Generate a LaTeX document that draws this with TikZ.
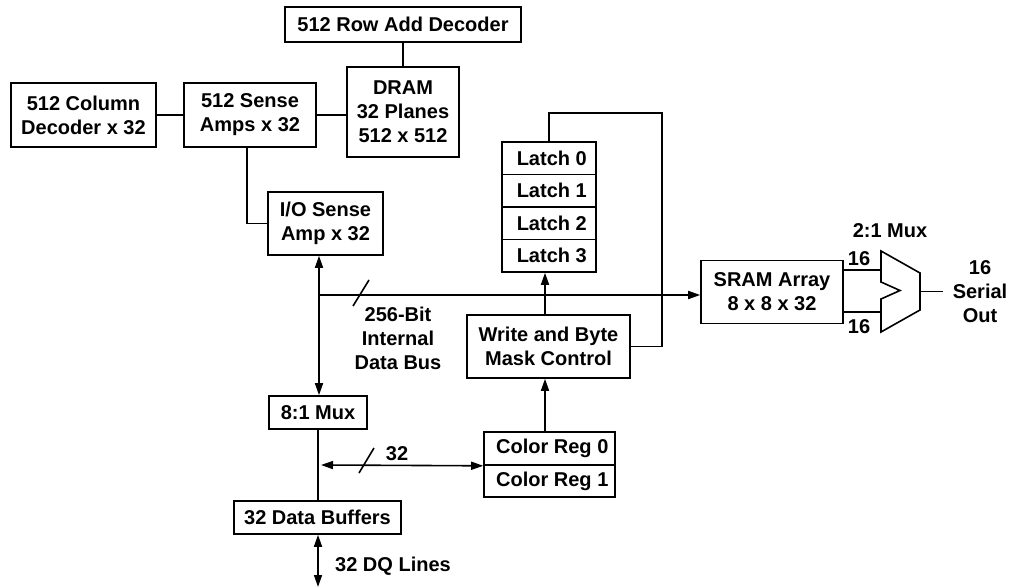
\documentclass[tikz,border=0pt]{standalone}
\usepackage{fontspec}
\setmainfont{Liberation Sans}
\usetikzlibrary{arrows.meta}
\begin{document}
\begin{tikzpicture}[x=1pt,y=-1pt,
  every node/.style={font=\fontsize{20}{24}\selectfont\bfseries, inner sep=0pt, align=center},
  blk/.style={draw, line width=1.6pt},
  conn/.style={line width=1.6pt},
  tip/.style={-{Triangle[length=12pt,width=8pt]}},
  tips/.style={{Triangle[length=12pt,width=8pt]}-{Triangle[length=12pt,width=8pt]}}]
\useasboundingbox (0,0) rectangle (1011,588);
% boxes
\node[blk, minimum width=236pt, minimum height=35pt] (rowdec) at (403,24.5) {512 Row Add Decoder};
\node[blk, minimum width=112pt, minimum height=90pt] (dram) at (403,112) {DRAM\\32 Planes\\512 x 512};
\node[blk, minimum width=145pt, minimum height=64pt] (coldec) at (83.5,115) {512 Column\\Decoder x 32};
\node[blk, minimum width=132pt, minimum height=64pt] (sense) at (250,115) {512 Sense\\Amps x 32};
\node[blk, minimum width=115pt, minimum height=63pt] (iosense) at (325.5,223.5) {I/O Sense\\Amp x 32};
\node[blk, minimum width=94pt, minimum height=32.5pt] (latch0) at (549,158.25) {\ Latch 0};
\node[blk, minimum width=94pt, minimum height=32.5pt] (latch1) at (549,190.75) {\ Latch 1};
\node[blk, minimum width=94pt, minimum height=32.5pt] (latch2) at (549,223.25) {\ Latch 2};
\node[blk, minimum width=94pt, minimum height=32.5pt] (latch3) at (549,255.75) {\ Latch 3};
\node[blk, minimum width=163pt, minimum height=63pt] (write) at (548.5,346.5) {Write and Byte\\Mask Control};
\node[blk, minimum width=142pt, minimum height=63pt] (sram) at (772,292) {SRAM Array\\8 x 8 x 32};
\node[blk, minimum width=98pt, minimum height=33pt] (mux8) at (318,412.5) {8:1 Mux};
\node[blk, minimum width=167pt, minimum height=33pt] (databuf) at (317.5,517.5) {32 Data Buffers};
\node[blk, minimum width=131pt, minimum height=33pt] (creg0) at (549.5,448.5) {\ Color Reg 0};
\node[blk, minimum width=131pt, minimum height=32pt] (creg1) at (549.5,481) {\ Color Reg 1};
% 2:1 mux shape
\coordinate (m1) at (881,251);
\coordinate (m2) at (920,273);
\coordinate (m3) at (920,310);
\coordinate (m4) at (881,332);
\coordinate (m5) at (881,299);
\coordinate (m6) at (900,290.5);
\coordinate (m7) at (881,282);
\draw[conn, line join=miter] (m1) -- (m2) -- (m3) -- (m4) -- (m5) -- (m6) -- (m7) -- cycle;
\coordinate (mout) at (920,291.5);
\coordinate (serial) at (943,291.5);
% coordinates
\coordinate (busL) at (319,295);
\coordinate (loop) at (662,113);
\coordinate (ax) at (545,0);
\coordinate (cL) at (321,465);
\coordinate (dqend) at (318,587);
% labels
\node (mux2lbl) at (890,231) {2:1 Mux};
\node (n16a) at (859,259) {16};
\node (n16b) at (859,327) {16};
\node (serlbl) at (980,292) {16\\Serial\\Out};
\node (buslbl) at (398,338) {256-Bit\\Internal\\Data Bus};
\node (n32) at (397,454) {32};
\node[anchor=west] (dqlbl) at (335,566) {32 DQ Lines};
% connectors
\draw[conn] (rowdec) -- (dram);
\draw[conn] (coldec) -- (sense);
\draw[conn] (sense) -- (sense -| dram.west);
\draw[conn] (sense.south -| 247,0) |- (iosense.west);
\draw[conn, tips] (iosense.south -| busL) -- (mux8.north -| busL);
\draw[conn, tip] (busL) -- (sram.west |- busL);
\draw[conn] (353,306) -- (369,280);
\draw[conn, tip] (ax |- write.north) -- (ax |- latch3.south);
\draw[conn, tip] (ax |- creg0.north) -- (ax |- write.south);
\draw[conn] (latch0.north) |- (loop) |- (write.east);
\draw[conn] (sram.east |- 0,270) -- (m1 |- 0,270);
\draw[conn] (sram.east |- 0,312) -- (m1 |- 0,312);
\draw[conn] (mout) -- (serial);
\draw[conn] (mux8.south) -- (databuf.north -| mux8.south);
\draw[conn, tips] (cL) -- (creg0.south west);
\draw[conn] (359,473) -- (374,448);
\draw[conn, tips] (databuf.south -| dqend) -- (dqend);
\end{tikzpicture}
\end{document}
